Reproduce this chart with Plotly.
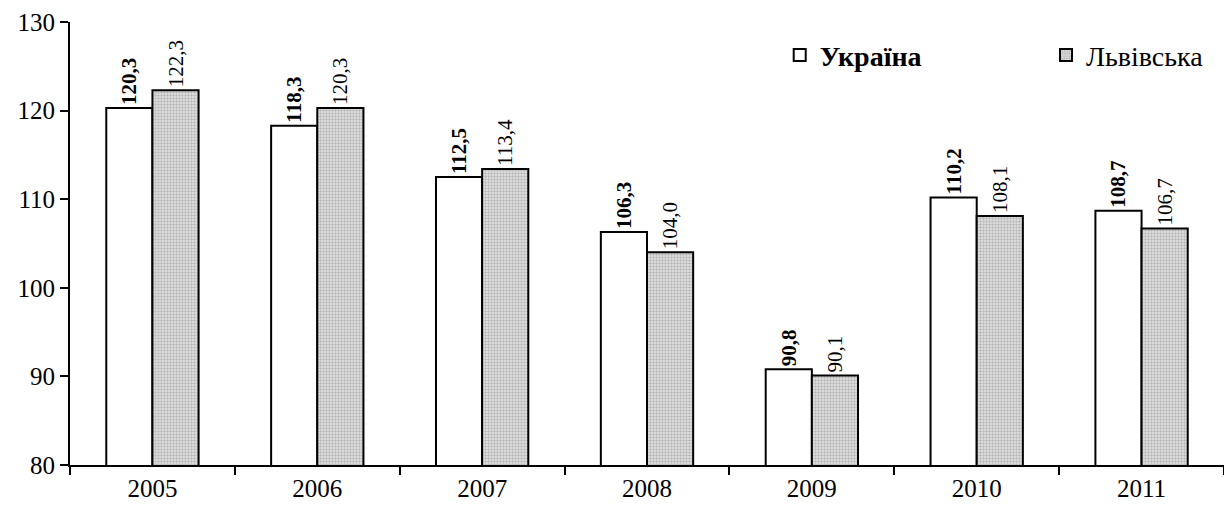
import plotly.graph_objects as go

years = ["2005", "2006", "2007", "2008", "2009", "2010", "2011"]
ukraine = [120.3, 118.3, 112.5, 106.3, 90.8, 110.2, 108.7]
lviv = [122.3, 120.3, 113.4, 104.0, 90.1, 108.1, 106.7]

def fmt(v):
    return f"{v:.1f}".replace(".", ",")

font = "Liberation Serif, Times New Roman, serif"

fig = go.Figure()
fig.add_trace(go.Bar(
    x=years, y=ukraine, name="<b>Україна</b>", legend="legend",
    marker=dict(color="white", line=dict(color="black", width=2)),
    text=["<b>" + fmt(v) + "</b>" for v in ukraine],
    textposition="outside", textangle=-90, constraintext="none",
    textfont=dict(family=font, size=21, color="black"),
    cliponaxis=False, showlegend=True,
))
fig.add_trace(go.Bar(
    x=years, y=lviv, name="Львівська", legend="legend2",
    marker=dict(color="#d0d0d0", line=dict(color="black", width=2),
                pattern=dict(shape=".", fgcolor="#888888", bgcolor="#e6e6e6",
                             size=3, solidity=0.5)),
    text=[fmt(v) for v in lviv],
    textposition="outside", textangle=-90, constraintext="none",
    textfont=dict(family=font, size=21, color="black"),
    cliponaxis=False, showlegend=True,
))

leg = dict(orientation="h", yanchor="middle",
           font=dict(family=font, size=28, color="black"),
           itemwidth=30, bgcolor="rgba(0,0,0,0)")

fig.update_layout(
    width=1224, height=514, showlegend=True,
    margin=dict(l=70, r=0, t=22, b=49),
    paper_bgcolor="white", plot_bgcolor="white",
    barmode="group", bargap=0.44, bargroupgap=0,
    font=dict(family=font, size=25, color="black"),
    legend=dict(leg, x=0.615, y=0.925, xanchor="left"),
    legend2=dict(leg, x=0.987, y=0.925, xanchor="right"),
    xaxis=dict(showline=True, linecolor="black", linewidth=2,
               ticks="outside", tickson="boundaries", ticklen=8, tickwidth=2,
               tickcolor="black", tickfont=dict(size=25)),
    yaxis=dict(range=[80, 130], dtick=10, showline=True, linecolor="black",
               linewidth=2, ticks="outside", ticklen=8, tickwidth=2,
               tickcolor="black", showgrid=False, zeroline=False,
               tickfont=dict(size=25)),
)

fig.write_html("out.html", config={"displayModeBar": False},
               post_script="document.body.style.margin='0';")
